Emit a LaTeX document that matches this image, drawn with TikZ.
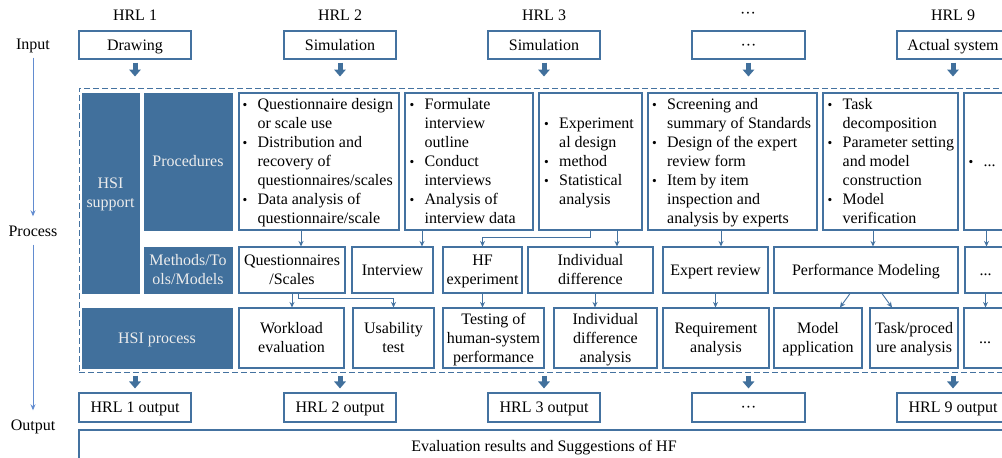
\documentclass[tikz,border=0pt]{standalone}
\usepackage{fontspec}
\setmainfont{Liberation Serif}
\usetikzlibrary{arrows.meta}

\definecolor{hsiblue}{RGB}{65,112,156}
\definecolor{edgeblue}{RGB}{68,114,160}
\definecolor{flowblue}{RGB}{98,140,208}
\definecolor{labelgray}{RGB}{236,236,236}

% line strut (sets the text slightly low within its line box)
\newcommand\sst{\rule[-4.4pt]{0pt}{19pt}}
% bullet and list lines (bulleted / continued)
\newcommand\dotbullet{{\fontsize{13.5}{13.5}\selectfont\textbullet}}
\newcommand\bit[1]{\makebox[15pt][l]{\dotbullet}#1\sst}
\newcommand\cit[1]{\hspace*{15pt}#1\sst}

% box given by its corners (left, top, right, bottom)
\newcommand\boxnode[7]{%
  \node[#1, minimum width={#5-#3}, minimum height={#6-#4}]
    (#2) at ({(#3+#5)/2},{(#4+#6)/2}) {#7};}

\tikzset{
  base/.style={font=\fontsize{16}{19}\selectfont, inner sep=0pt},
  wbox/.style={base, draw=edgeblue, line width=1.1pt, fill=white, align=center},
  dbox/.style={base, draw=hsiblue, fill=hsiblue, line width=0.8pt,
               text=labelgray, align=center},
  listtext/.style={base, align=left, anchor=west},
  framebox/.style={draw=edgeblue, line width=1pt, dash pattern=on 6pt off 3pt},
  link/.style={draw=edgeblue, line width=0.9pt, -{Stealth[length=5.5pt,width=5pt]}},
  fat/.style={draw=hsiblue, line width=5pt, -{Triangle[length=7pt,width=11.5pt]}},
  flow/.style={draw=flowblue, line width=0.9pt, -{Stealth[length=6pt,width=5pt]}},
}

\begin{document}
\begin{tikzpicture}[x=1pt,y=-1pt]
\useasboundingbox (0,0) rectangle (1002,458);
\clip (0,0) rectangle (1002,458);

% ---- column headings
\node[base] (h1) at (135,15) {\sst HRL 1};
\node[base] (h2) at (340,15) {\sst HRL 2};
\node[base] (h3) at (544,15) {\sst HRL 3};
\node[base] (h4) at (748,13) {\sst ···};
\node[base] (h5) at (953,15) {\sst HRL 9};

% ---- stage labels on the left
\node[base] (lin)   at (33,44)  {\sst Input};
\node[base] (lproc) at (33,231) {\sst Process};
\node[base] (lout)  at (33,425) {\sst Output};
\draw[flow, shorten <=4pt, shorten >=5pt] (lin) -- (lproc);
\draw[flow, shorten <=4pt, shorten >=5pt] (lproc) -- (lout);

% ---- inputs
\boxnode{wbox}{in1}{79}{31}{191}{59}{\sst Drawing}
\boxnode{wbox}{in2}{284}{31}{396}{59}{\sst Simulation}
\boxnode{wbox}{in3}{488}{31}{600}{59}{\sst Simulation}
\boxnode{wbox}{in4}{692}{31}{805}{59}{\sst ···}
\boxnode{wbox}{in5}{897}{31}{1009}{59}{\sst Actual system}

% ---- process frame
\boxnode{framebox}{frame}{79}{88}{1009}{372}{}

% ---- HSI support column
\boxnode{dbox}{hsisup}{82}{93}{139}{293}{\sst HSI\\\sst support}
\boxnode{dbox}{proc}{144}{93}{232}{230}{\sst Procedures}
\boxnode{dbox}{meth}{144}{247}{232}{293}{\sst Methods/To\\\sst ols/Models}
\boxnode{dbox}{hsiproc}{82}{308}{232}{368}{\sst HSI process}

% ---- procedures
\boxnode{wbox}{p1}{239}{93}{399}{230}{}
\boxnode{wbox}{p2}{405}{93}{533}{230}{}
\boxnode{wbox}{p3}{539}{93}{642}{230}{}
\boxnode{wbox}{p4}{648}{93}{817}{230}{}
\boxnode{wbox}{p5}{823}{93}{958}{230}{}
\boxnode{wbox}{p6}{964}{93}{1009}{230}{}

\node[listtext] (p1t) at ([xshift=4pt]p1.west)
  {\bit{Questionnaire design}\\\cit{or scale use}\\\bit{Distribution and}\\
   \cit{recovery of}\\\cit{questionnaires/scales}\\\bit{Data analysis of}\\
   \cit{questionnaire/scale}};
\node[listtext] (p2t) at ([xshift=5pt]p2.west)
  {\bit{Formulate}\\\cit{interview}\\\cit{outline}\\\bit{Conduct}\\
   \cit{interviews}\\\bit{Analysis of}\\\cit{interview data}};
\node[listtext] (p3t) at ([xshift=5.5pt]p3.west)
  {\bit{Experiment}\\\cit{al design}\\\bit{method}\\\bit{Statistical}\\
   \cit{analysis}};
\node[listtext] (p4t) at ([xshift=4.5pt]p4.west)
  {\bit{Screening and}\\\cit{summary of Standards}\\\bit{Design of the expert}\\
   \cit{review form}\\\bit{Item by item}\\\cit{inspection and}\\
   \cit{analysis by experts}};
\node[listtext] (p5t) at ([xshift=5pt]p5.west)
  {\bit{Task}\\\cit{decomposition}\\\bit{Parameter setting}\\\cit{and model}\\
   \cit{construction}\\\bit{Model}\\\cit{verification}};
\node[listtext] (p6t) at ([xshift=5pt]p6.west) {\bit{...}};

% ---- methods / tools / models
\boxnode{wbox}{m1}{239}{247}{345}{293}{\sst Questionnaires\\\sst /Scales}
\boxnode{wbox}{m2}{352}{247}{433}{293}{\sst Interview}
\boxnode{wbox}{m3}{443}{247}{522}{293}{\sst HF\\\sst experiment}
\boxnode{wbox}{m4}{528}{247}{653}{293}{\sst Individual\\\sst difference}
\boxnode{wbox}{m5}{663}{247}{768}{293}{\sst Expert review}
\boxnode{wbox}{m6}{774}{247}{958}{293}{\sst Performance Modeling}
\boxnode{wbox}{m7}{965}{247}{1006}{293}{\sst ...}

% ---- HSI process results
\boxnode{wbox}{r1}{239}{308}{344}{368}{\sst Workload\\\sst evaluation}
\boxnode{wbox}{r2}{353}{308}{434}{368}{\sst Usability\\\sst test}
\boxnode{wbox}{r3}{443}{308}{544}{368}{\sst Testing of\\\sst human-system\\\sst performance}
\boxnode{wbox}{r4}{554}{308}{657}{368}{\sst Individual\\\sst difference\\\sst analysis}
\boxnode{wbox}{r5}{663}{308}{769}{368}{\sst Requirement\\\sst analysis}
\boxnode{wbox}{r6}{774}{308}{862}{368}{\sst Model\\\sst application}
\boxnode{wbox}{r7}{870}{308}{958}{368}{\sst Task/proced\\\sst ure analysis}
\boxnode{wbox}{r8}{964}{308}{1006}{368}{\sst ...}

% ---- outputs
\boxnode{wbox}{out1}{79}{393}{191}{422}{\sst HRL 1 output}
\boxnode{wbox}{out2}{284}{393}{396}{422}{\sst HRL 2 output}
\boxnode{wbox}{out3}{488}{393}{600}{422}{\sst HRL 3 output}
\boxnode{wbox}{out4}{692}{393}{805}{422}{\sst ···}
\boxnode{wbox}{out5}{897}{393}{1009}{422}{\sst HRL 9 output}
\boxnode{wbox}{eval}{79}{430}{1009}{462}{\sst Evaluation results and Suggestions of HF}

% ---- block arrows into and out of the frame
\foreach \i in {1,...,5}{
  \draw[fat, shorten <=3pt, shorten >=11pt] (in\i.south) -- (in\i.south |- frame.north);
  \draw[fat, shorten <=3pt, shorten >=4pt] (out\i.north |- frame.south) -- (out\i.north);
}

% ---- procedures to methods
\draw[link] ([xshift=-18pt]p1.south) -- ([xshift=-18pt]p1.south |- m1.north);
\draw[link] ([xshift=-47pt]p2.south) -- ([xshift=-47pt]p2.south |- m2.north);
\draw[link] (p3.south) -- ++(0,7) -| (m3.north);
\draw[link] ([xshift=26.5pt]p3.south) -- ([xshift=26.5pt]p3.south |- m4.north);
\draw[link] ([xshift=-11.5pt]p4.south) -- ([xshift=-11.5pt]p4.south |- m5.north);
\draw[link] ([xshift=-17.5pt]p5.south) -- ([xshift=-17.5pt]p5.south |- m6.north);
\draw[link] (p6.south) -- (p6.south |- m7.north);

% ---- methods to results
\draw[link] (m1.south) -- (m1.south |- r1.north);
\draw[link] ([xshift=6pt]m1.south) -- ++(0,5) -| (r2.north);
\draw[link] (m3.south) -- (m3.south |- r3.north);
\draw[link] ([xshift=4.5pt]m4.south) -- ([xshift=4.5pt]m4.south |- r4.north);
\draw[link] (m5.south) -- (m5.south |- r5.north);
\draw[link] ([xshift=-16pt]m6.south) -- ([xshift=22pt]r6.north);
\draw[link] ([xshift=16pt]m6.south) -- ([xshift=-22pt]r7.north);
\draw[link] (m7.south) -- (m7.south |- r8.north);
\end{tikzpicture}
\end{document}
